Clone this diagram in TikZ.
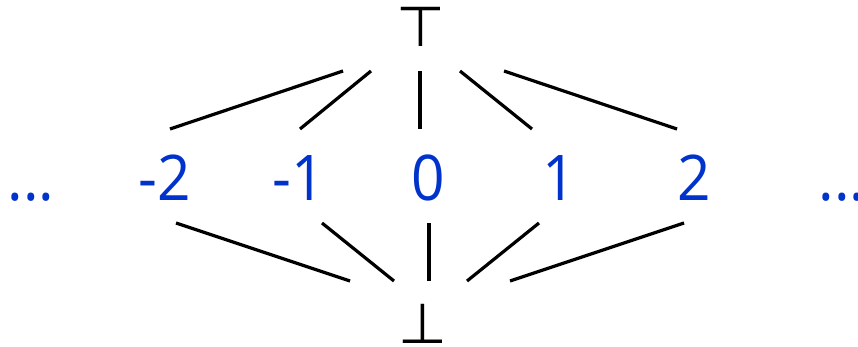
\documentclass[tikz,border=0pt]{standalone}
\usepackage{fontspec}
\setmainfont[FakeStretch=0.93]{Open Sans}
\newfontfamily\symfont{DejaVu Sans}
\definecolor{numblue}{RGB}{0,51,204}
\begin{document}
\begin{tikzpicture}[x=1pt,y=-1pt,
  num/.style={text=numblue,font=\fontsize{63}{70}\selectfont,inner sep=0pt,anchor=base},
  sym/.style={font=\symfont\fontsize{56}{60}\selectfont,inner sep=0pt,anchor=base},
  link/.style={line width=3.2pt,black}]
\useasboundingbox (0,0) rectangle (858,346);
\node[sym] (top) at (420.5,46) {⊤};
\node[sym] (bot) at (422.5,343) {⊥};
\node[num] (m2) at (164.5,200) {-2};
\node[num] (m1) at (299,200) {-1};
\node[num] (z)  at (428,200) {0};
\node[num] (p1) at (559.5,200) {1};
\node[num] (p2) at (694,200) {2};
\node[num] (ld) at (31,200) {...};
\node[num] (rd) at (842,200) {...};
% upper connectors
\draw[link] ([shift={(-77.5,25)}]top.base) -- ([shift={(5.5,-71)}]m2.base);
\draw[link] ([shift={(-49.5,25)}]top.base) -- ([shift={(1,-71)}]m1.base);
\draw[link] ([shift={(-0.5,25)}]top.base) -- ([shift={(-8,-71)}]z.base);
\draw[link] ([shift={(39.5,25)}]top.base) -- ([shift={(-27.5,-71)}]p1.base);
\draw[link] ([shift={(83.5,25)}]top.base) -- ([shift={(-17,-71)}]p2.base);
% lower connectors
\draw[link] ([shift={(11.5,23)}]m2.base) -- ([shift={(-72.5,-62)}]bot.base);
\draw[link] ([shift={(23,23)}]m1.base) -- ([shift={(-28.5,-62)}]bot.base);
\draw[link] ([shift={(1,23)}]z.base) -- ([shift={(6.5,-62)}]bot.base);
\draw[link] ([shift={(-20.5,23)}]p1.base) -- ([shift={(44.5,-62)}]bot.base);
\draw[link] ([shift={(-10,23)}]p2.base) -- ([shift={(87.5,-62)}]bot.base);
\end{tikzpicture}
\end{document}
